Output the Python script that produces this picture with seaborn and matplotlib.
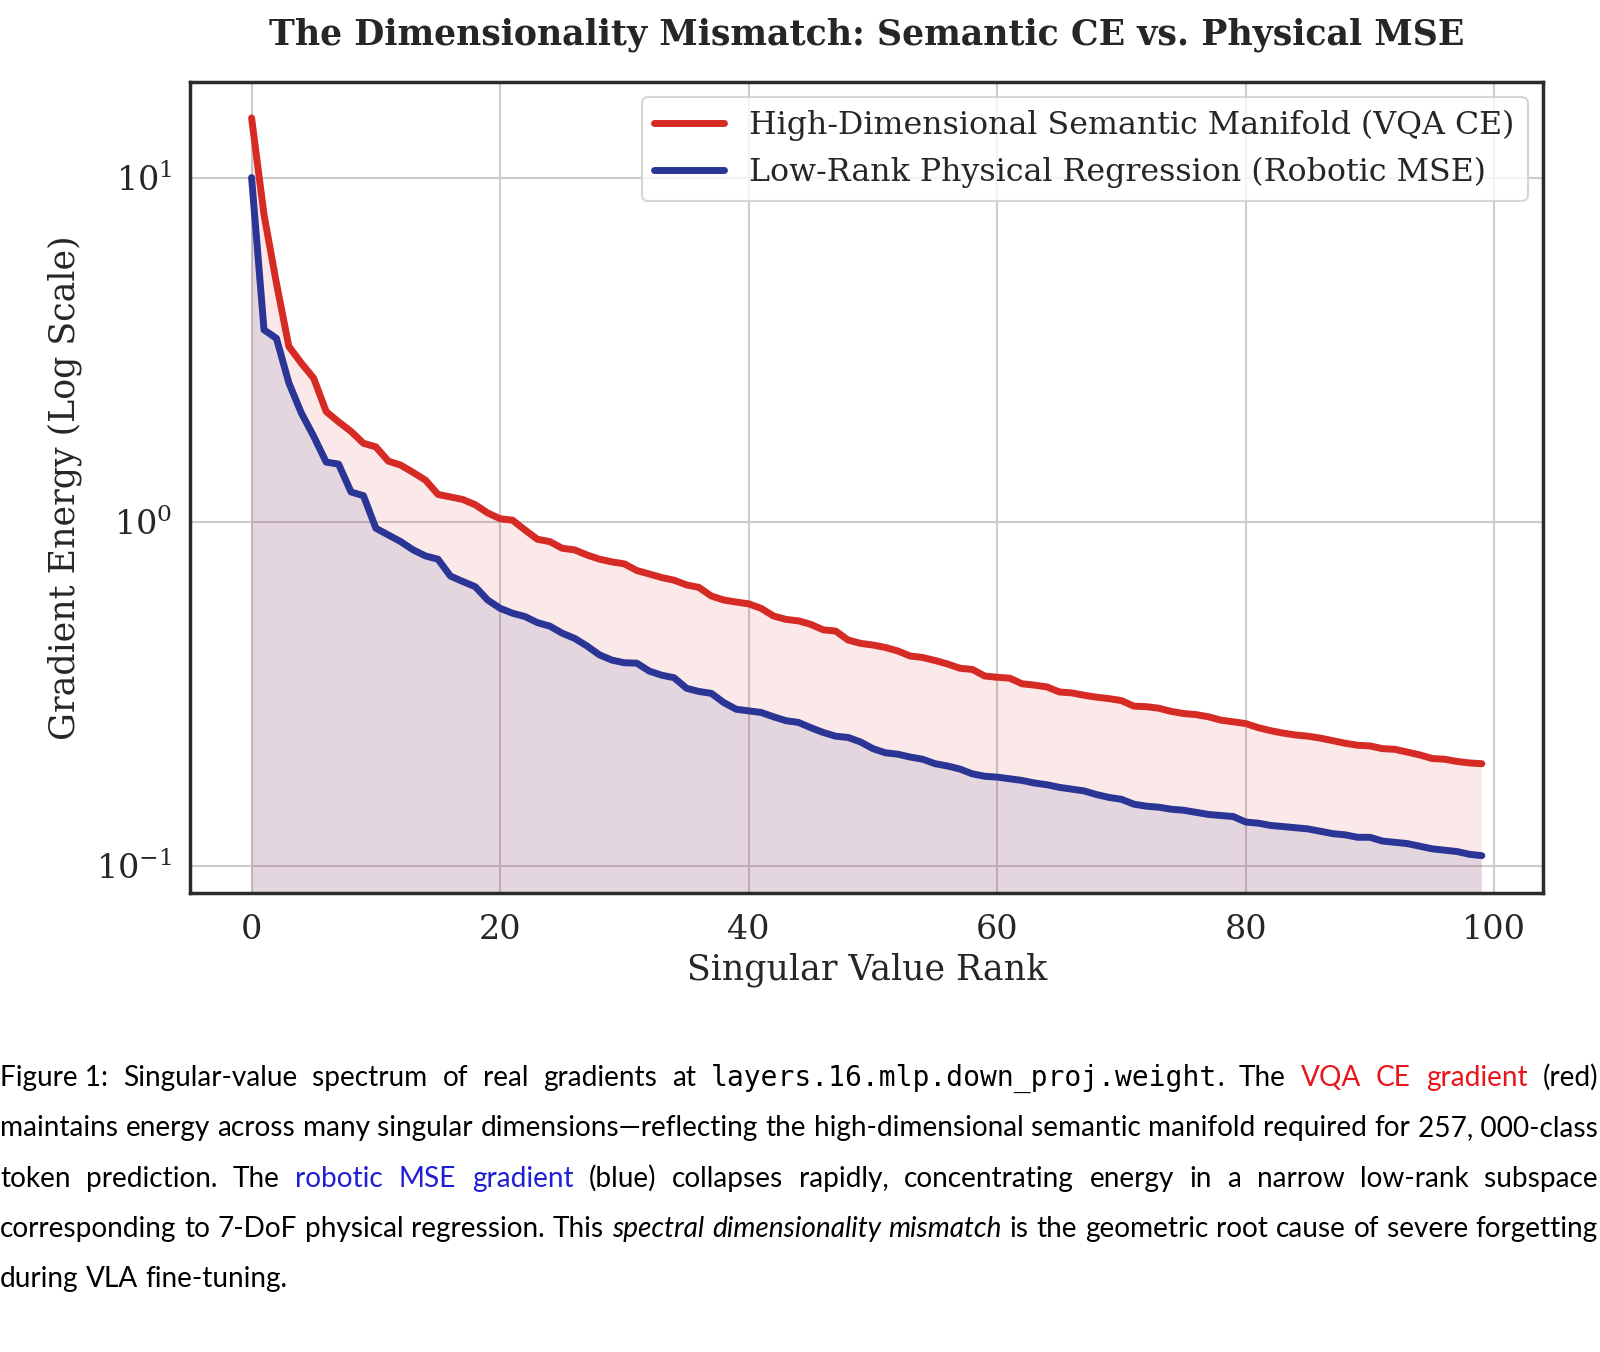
import numpy as np
import pandas as pd
import matplotlib
matplotlib.use('Agg')
import matplotlib.pyplot as plt
import seaborn as sns

# singular value spectra (rank 0..99)
rank = list(range(100))
ce_energy = [14.9, 7.8, 4.93, 3.23, 2.89, 2.61, 2.09, 1.95, 1.83, 1.69,
             1.65, 1.50, 1.46, 1.39, 1.32, 1.20, 1.18, 1.16, 1.12, 1.06,
             1.02, 1.01, 0.946, 0.889, 0.875, 0.837, 0.828, 0.800, 0.778, 0.764,
             0.754, 0.721, 0.705, 0.688, 0.676, 0.655, 0.644, 0.608, 0.592, 0.584,
             0.577, 0.560, 0.532, 0.520, 0.515, 0.503, 0.485, 0.481, 0.453, 0.443,
             0.438, 0.431, 0.421, 0.407, 0.403, 0.395, 0.386, 0.375, 0.372, 0.356,
             0.353, 0.351, 0.338, 0.335, 0.331, 0.320, 0.318, 0.313, 0.309, 0.306,
             0.302, 0.291, 0.290, 0.287, 0.281, 0.277, 0.275, 0.271, 0.265, 0.262,
             0.259, 0.252, 0.247, 0.243, 0.240, 0.238, 0.235, 0.231, 0.227, 0.224,
             0.223, 0.219, 0.218, 0.214, 0.210, 0.205, 0.204, 0.201, 0.199, 0.198]
mse_energy = [10.0, 3.61, 3.41, 2.53, 2.07, 1.77, 1.49, 1.47, 1.22, 1.19,
              0.957, 0.915, 0.875, 0.828, 0.795, 0.778, 0.695, 0.670, 0.647, 0.592,
              0.560, 0.542, 0.530, 0.509, 0.497, 0.474, 0.458, 0.435, 0.410, 0.396,
              0.389, 0.388, 0.368, 0.358, 0.352, 0.328, 0.321, 0.317, 0.298, 0.285,
              0.282, 0.279, 0.271, 0.264, 0.261, 0.252, 0.244, 0.238, 0.236, 0.229,
              0.219, 0.213, 0.211, 0.207, 0.204, 0.198, 0.195, 0.191, 0.185, 0.182,
              0.181, 0.179, 0.177, 0.174, 0.172, 0.169, 0.167, 0.165, 0.161, 0.158,
              0.156, 0.151, 0.149, 0.148, 0.146, 0.145, 0.143, 0.141, 0.140, 0.139,
              0.134, 0.133, 0.131, 0.130, 0.129, 0.128, 0.126, 0.124, 0.123, 0.121,
              0.121, 0.118, 0.117, 0.116, 0.114, 0.112, 0.111, 0.110, 0.108, 0.107]
ce_label = 'High-Dimensional Semantic Manifold (VQA CE)'
mse_label = 'Low-Rank Physical Regression (Robotic MSE)'
xticks = [0, 20, 40, 60, 80, 100]

# caption, as runs of (text, kind)
caption_lines = [
    [("Figure\u00a01: Singular-value spectrum of real gradients at ", "n"),
     ("layers.16.mlp.down_proj.weight", "m"), (". The ", "n"),
     ("VQA CE gradient", "r"), (" (red)", "n")],
    [("maintains energy across many singular dimensions\u2014reflecting the high-dimensional "
      "semantic manifold required for 257,\u00a0000-class", "n")],
    [("token prediction. The ", "n"), ("robotic MSE gradient", "b"),
     (" (blue) collapses rapidly, concentrating energy in a narrow low-rank subspace", "n")],
    [("corresponding to 7-DoF physical regression. This ", "n"),
     ("spectral dimensionality mismatch", "i"),
     (" is the geometric root cause of severe forgetting", "n")],
    [("during VLA fine-tuning.", "n")],
]

sns.set_theme(style='whitegrid')
plt.rcParams['font.family'] = ['DejaVu Serif']
plt.rcParams['mathtext.fontset'] = 'dejavuserif'

red = '#d62a24'
blue = '#2b3596'

df = pd.DataFrame({'rank': rank, 'ce': ce_energy, 'mse': mse_energy})

fig = plt.figure(figsize=(16, 13.52), dpi=100)
ax = fig.add_axes([0.1188, 0.3397, 0.8458, 0.5999])

ax.fill_between(df['rank'], df['ce'], 1e-3, color=red, alpha=0.1, lw=0)
ax.fill_between(df['rank'], df['mse'], 1e-3, color=blue, alpha=0.1, lw=0)
sns.lineplot(data=df, x='rank', y='ce', ax=ax, color=red, lw=5, label=ce_label)
sns.lineplot(data=df, x='rank', y='mse', ax=ax, color=blue, lw=5, label=mse_label)

ax.set_yscale('log')
ax.set_ylim(0.0835, 19)
ax.set_xticks(xticks)
ax.grid(True, color='#cccccc', lw=1.5)
for s in ax.spines.values():
    s.set_color('#2b2b2b')
    s.set_linewidth(2.5)
ax.tick_params(axis='x', labelsize=24, pad=9, colors='.15')
ax.tick_params(axis='y', labelsize=24, pad=7, colors='.15')
ax.set_xlabel('Singular Value Rank', fontsize=25, color='.15', labelpad=5)
ax.set_ylabel('Gradient Energy (Log Scale)', fontsize=25, color='.15', labelpad=10)
ax.set_title('The Dimensionality Mismatch: Semantic CE vs. Physical MSE',
             fontsize=25, fontweight='bold', color='.15', pad=27)
leg = ax.legend(loc='upper right', fontsize=22.8, handlelength=2.2, frameon=True)
leg.get_frame().set_edgecolor('#cccccc')
leg.get_frame().set_linewidth(1.5)

# justified caption under the chart
renderer = fig.canvas.get_renderer()
sans = ['Liberation Sans Narrow', 'Lato', 'DejaVu Sans']
styles = {
    'n': dict(family=sans, color='black'),
    'm': dict(family=['DejaVu Sans Mono'], color='black'),
    'r': dict(family=sans, color='#e8161b'),
    'b': dict(family=sans, color='#1f1fd6'),
    'i': dict(family=sans, color='black', style='italic'),
}
W, H = 1600, 1352
cap_size = 20.2
x_left, x_right = 0, 1598
baselines = [1086, 1136, 1187, 1237, 1287]


def split_words(runs):
    words = [[]]
    for text, kind in runs:
        for j, p in enumerate(text.split(' ')):
            if j > 0:
                words.append([])
            if p:
                words[-1].append((p, kind))
    return [w for w in words if w]


def measure(piece, kind, size):
    t = fig.text(0, 0, piece, fontsize=size, **styles[kind])
    w = t.get_window_extent(renderer).width
    t.remove()
    return w


for li, runs in enumerate(caption_lines):
    words = split_words(runs)
    widths = [[measure(p, k, cap_size) for p, k in w] for w in words]
    total = sum(sum(ws) for ws in widths)
    last = li == len(caption_lines) - 1
    if last or len(words) < 2:
        gap = measure('a a', 'n', cap_size) - measure('aa', 'n', cap_size)
    else:
        gap = (x_right - x_left - total) / (len(words) - 1)
    x = x_left
    for w, ws in zip(words, widths):
        for (p, k), pw in zip(w, ws):
            fig.text(x / W, 1 - baselines[li] / H, p, fontsize=cap_size,
                     va='baseline', ha='left', **styles[k])
            x += pw
        x += gap

fig.savefig('out.png', dpi=100)
